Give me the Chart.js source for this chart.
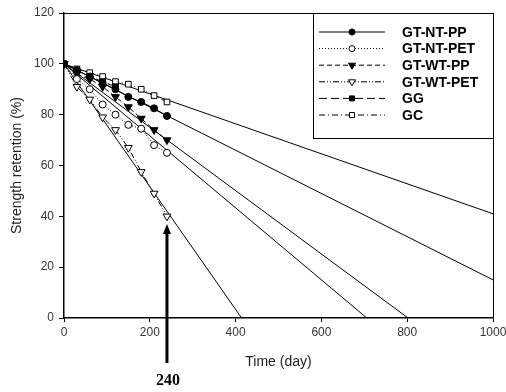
<!DOCTYPE html>
<html>
<head>
<meta charset="utf-8">
<script src="https://cdn.jsdelivr.net/npm/chart.js@4"></script>
<style>
  html, body { margin: 0; padding: 0; background: #fff; }
  canvas { display: block; }
</style>
</head>
<body>
<canvas id="chart" width="506" height="392"></canvas>
<script>
// days of measurement
const days = [0, 30, 60, 90, 120, 150, 180, 210, 240]

// strength retention (%) for each product
const gtNtPP  = [100, 97.5, 95, 92.5, 90, 87, 85, 82.5, 79.5]
const gtNtPET = [100, 94, 90, 84, 80, 76, 74.5, 68, 65]
const gtWtPP  = [100, 96, 94, 91, 87, 83, 78.5, 74, 70]
const gtWtPET = [100, 91, 86, 79, 74, 67, 57.5, 49, 40]
const gg      = [100, 97.5, 95, 93, 91]
const gc      = [100, 98, 96.5, 95, 93, 92, 90, 87.5, 85]

const seriesNames = ['GT-NT-PP', 'GT-NT-PET', 'GT-WT-PP', 'GT-WT-PET', 'GG', 'GC']
const seriesValues = [gtNtPP, gtNtPET, gtWtPP, gtWtPET, gg, gc]

// extrapolated regression lines: start and end [day, %]
const trendStart = [0, 100]
const trendEnds = [[1000, 15], [706, 0], [802, 0], [414, 0], null, [1000, 41]]

// y and x tick values
const yTicks = [0, 20, 40, 60, 80, 100, 120]
const xTicks = [0, 200, 400, 600, 800, 1000]

// arrow marking day 240
const arrowDay = 240
const arrowTip = 37

const font = '"Liberation Sans", Arial, sans-serif'

const styles = [
    { dash: [], point: 'circle', rot: 0, fill: '#000', r: 3.5 },
    { dash: [1, 2], point: 'circle', rot: 0, fill: '#fff', r: 3.5 },
    { dash: [5, 3], point: 'triangle', rot: 180, fill: '#000', r: 4.5 },
    { dash: [6, 2, 1, 2, 1, 2], point: 'triangle', rot: 180, fill: '#fff', r: 4.5 },
    { dash: [8, 4], point: 'rect', rot: 0, fill: '#000', r: 4 },
    { dash: [6, 3, 1, 3], point: 'rect', rot: 0, fill: '#fff', r: 4 },
]

const datasets = []
seriesValues.forEach((vals, i) => {
    const s = styles[i]
    datasets.push({
        label: seriesNames[i],
        data: vals.map((v, j) => ({ x: days[j], y: v })),
        borderColor: '#000',
        borderWidth: 1,
        borderDash: s.dash,
        pointStyle: s.point,
        rotation: s.rot,
        pointRadius: s.r,
        pointBackgroundColor: s.fill,
        pointBorderColor: '#000',
        pointBorderWidth: 1,
        showLine: true,
    })
})
trendEnds.forEach((end) => {
    if (!end) return
    datasets.push({
        label: '',
        data: [{ x: trendStart[0], y: trendStart[1] }, { x: end[0], y: end[1] }],
        borderColor: '#000',
        borderWidth: 1,
        pointRadius: 0,
        showLine: true,
    })
})

const extras = {
    id: 'extras',
    afterDraw(chart) {
        const ctx = chart.ctx
        const a = chart.chartArea
        const xs = chart.scales.x, ys = chart.scales.y
        ctx.save()
        // frame
        ctx.strokeStyle = '#000'
        ctx.lineWidth = 1
        ctx.beginPath()
        ctx.moveTo(a.left, a.top + 0.5)
        ctx.lineTo(a.right + 0.5, a.top + 0.5)
        ctx.lineTo(a.right + 0.5, a.bottom)
        ctx.stroke()

        // legend box
        const bx = 313, by = a.top, bw = a.right - 313, bh = 125
        ctx.fillStyle = '#fff'
        ctx.fillRect(bx, by, bw, bh)
        ctx.strokeRect(bx + 0.5, by + 0.5, bw, bh)
        ctx.font = 'bold 14px ' + font
        ctx.textBaseline = 'middle'
        for (let i = 0; i < seriesNames.length; i++) {
            const s = styles[i]
            const y = by + 19 + i * 16.6
            ctx.setLineDash(s.dash)
            ctx.strokeStyle = '#000'
            ctx.beginPath()
            ctx.moveTo(319, y)
            ctx.lineTo(385, y)
            ctx.stroke()
            ctx.setLineDash([])
            ctx.fillStyle = s.fill
            Chart.helpers.drawPoint(ctx, { pointStyle: s.point, rotation: s.rot, radius: s.r - 0.5, borderWidth: 1 }, 352, y)
            ctx.fillStyle = '#000'
            ctx.fillText(seriesNames[i], 402, y + 1)
        }

        // arrow
        const ax = xs.getPixelForValue(arrowDay)
        const tipY = ys.getPixelForValue(arrowTip)
        ctx.fillStyle = '#000'
        ctx.fillRect(ax - 1.5, tipY + 8, 3, 363 - tipY - 8)
        ctx.beginPath()
        ctx.moveTo(ax, tipY)
        ctx.lineTo(ax - 4, tipY + 10)
        ctx.lineTo(ax + 4, tipY + 10)
        ctx.closePath()
        ctx.fill()
        ctx.font = 'bold 16px "Liberation Serif", "Times New Roman", serif'
        ctx.textAlign = 'center'
        ctx.fillText(String(arrowDay), ax + 1, 381)
        ctx.restore()
    }
}

new Chart(document.getElementById('chart'), {
    type: 'scatter',
    data: { datasets },
    plugins: [extras],
    options: {
        responsive: false,
        animation: false,
        devicePixelRatio: 1,
        layout: { padding: { top: 13, right: 13, left: 0, bottom: 0 } },
        plugins: { legend: { display: false }, tooltip: { enabled: false } },
        scales: {
            x: {
                type: 'linear',
                min: 0, max: 1000,
                afterBuildTicks: (s) => { s.ticks = xTicks.map(v => ({ value: v })) },
                afterFit: (s) => { s.height = 74; s.paddingLeft = 0; s.paddingRight = 0 },
                grid: { drawOnChartArea: false, drawTicks: true, tickLength: 4, color: '#000' },
                border: { color: '#000', width: 1.5 },
                ticks: { color: '#333', font: { size: 12, family: font }, padding: 3, maxRotation: 0, callback: (v) => String(v) },
                title: { display: true, text: 'Time (day)', color: '#222', font: { size: 14, family: font }, padding: { top: 0, bottom: 21 } },
            },
            y: {
                type: 'linear',
                min: 0, max: 120,
                afterBuildTicks: (s) => { s.ticks = yTicks.map(v => ({ value: v })) },
                afterFit: (s) => { s.width = 64; s.paddingTop = 0; s.paddingBottom = 0 },
                grid: { drawOnChartArea: false, drawTicks: true, tickLength: 5, color: '#000' },
                border: { color: '#000', width: 1.5 },
                ticks: { color: '#333', font: { size: 12, family: font }, padding: 5, callback: (v) => String(v) },
                title: { display: true, text: 'Strength retention (%)', color: '#222', font: { size: 14, family: font }, padding: { top: 9, bottom: 0 } },
            },
        },
    },
})
</script>
</body>
</html>
